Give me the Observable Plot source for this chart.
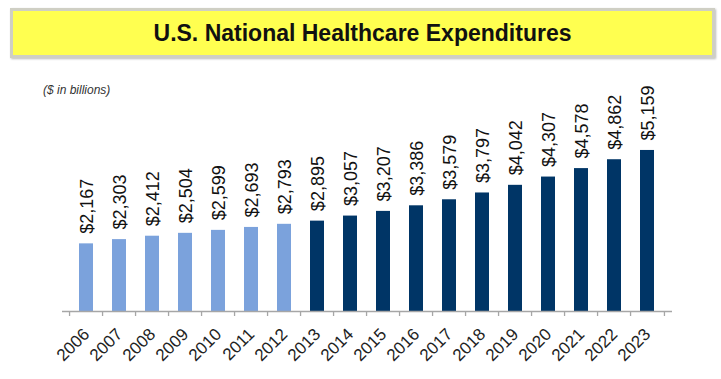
<!DOCTYPE html>
<html>
<head>
<meta charset="utf-8">
<script src="https://cdn.jsdelivr.net/npm/d3@7"></script>
<script src="https://cdn.jsdelivr.net/npm/@observablehq/plot@0.6"></script>
<style>
  html, body { margin: 0; padding: 0; background: #fff; }
  #wrap { position: relative; width: 721px; height: 379px; overflow: hidden; font-family: "Liberation Sans", Arial, sans-serif; }
  #banner {
    position: absolute; left: 10px; top: 8px; width: 699px; height: 44px;
    background: #ffff50; border: 3px solid #cfcfc4; box-shadow: 1px 1px 2px #bbb;
    display: flex; align-items: center; justify-content: center;
    font-weight: bold; font-size: 23px; color: #111;
  }
  #unit { position: absolute; left: 43px; top: 83px; font-size: 12px; font-style: italic; color: #333; }
  #chart { position: absolute; left: 0; top: 60px; }
</style>
</head>
<body>
<div id="wrap">
  <div id="banner">U.S. National Healthcare Expenditures</div>
  <div id="unit">($ in billions)</div>
  <div id="chart"></div>
</div>
<script>
const years = ["2006","2007","2008","2009","2010","2011","2012","2013","2014","2015","2016","2017","2018","2019","2020","2021","2022","2023"];
const spending = [2167,2303,2412,2504,2599,2693,2793,2895,3057,3207,3386,3579,3797,4042,4307,4578,4862,5159];
const phase = ["Actual","Actual","Actual","Actual","Actual","Actual","Actual","Projected","Projected","Projected","Projected","Projected","Projected","Projected","Projected","Projected","Projected","Projected"];

const data = years.map((y, i) => ({year: y, value: spending[i], phase: phase[i]}));

const W = 721, H = 319, mL = 62, mR = 49;
const bw = (W - mL - mR) / years.length;

const plot = Plot.plot({
  width: W,
  height: H,
  marginLeft: mL,
  marginRight: mR,
  marginTop: 20,
  marginBottom: 68,
  style: {background: "transparent", fontFamily: "Liberation Sans, Arial, sans-serif"},
  x: {type: "band", domain: years, paddingInner: 0.57, paddingOuter: 0.285, axis: null, label: null},
  y: {domain: [0, 7400], axis: null, label: null},
  color: {domain: ["Actual", "Projected"], range: ["#7ba2dc", "#003566"]},
  marks: [
    Plot.barY(data, {x: "year", y: "value", fill: "phase"}),
    Plot.ruleY([0], {stroke: "#a6a6a6", strokeWidth: 1.5}),
    Plot.axisX({tickSize: 5, stroke: "#a6a6a6", strokeWidth: 1.3, tickFormat: () => "", label: null, dx: -bw / 2}),
    Plot.axisX({ticks: [years[years.length - 1]], tickSize: 5, stroke: "#a6a6a6", strokeWidth: 1.3, tickFormat: () => "", label: null, dx: bw / 2}),
    Plot.text(data, {x: "year", y: "value", text: d => "$" + d3.format(",")(d.value), rotate: -90, textAnchor: "start", dy: -10, dx: 1, fontSize: 18, fill: "#111"}),
    Plot.text(data, {x: "year", y: () => 0, text: "year", rotate: -45, textAnchor: "end", dy: 20, dx: 0, fontSize: 17, fill: "#222"})
  ]
});
document.getElementById("chart").appendChild(plot);
</script>
</body>
</html>
